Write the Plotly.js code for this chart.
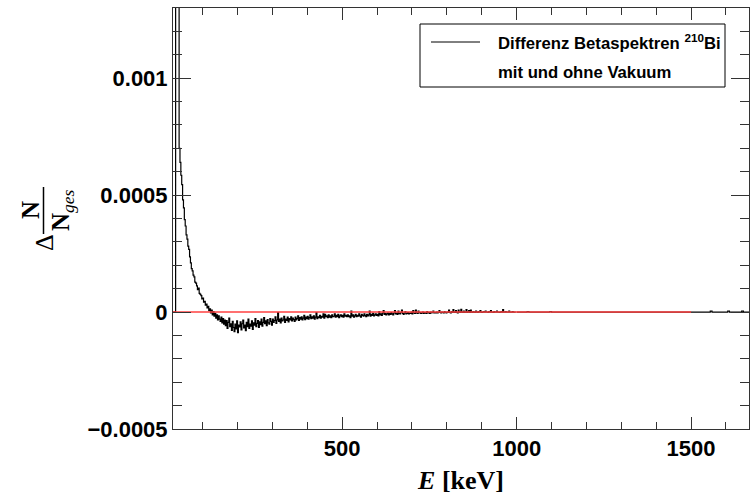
<!DOCTYPE html>
<html>
<head>
<meta charset="utf-8">
<script src="https://cdn.plot.ly/plotly-3.0.1.min.js"></script>
<style>html,body{margin:0;padding:0;background:#fff;}#chart{width:753px;height:502px;}</style>
</head>
<body>
<div id="chart"></div>
<script>
// Difference of the 210Bi beta spectra (with / without vacuum), normalised
// Histogram part 1: bins of 2.5 keV from 15 keV to 1000 keV
const binStart_keV = 15;
const binWidth_keV = 2.5;
const deltaN = [
  0, 0, 0, 4000e-6, 4000e-6, 4000e-6, 4000e-6, 700e-6, 640e-6, 585e-6, 545e-6, 480e-6, 445e-6, 395e-6, 368e-6, 330e-6, 312e-6, 282e-6, 268e-6, 236e-6,
  210e-6, 186e-6, 176e-6, 158e-6, 150e-6, 128e-6, 124e-6, 112e-6, 96e-6, 102e-6, 80e-6, 76e-6, 70e-6, 56e-6, 60e-6, 42e-6, 46e-6, 30e-6, 34e-6, 18e-6,
  24e-6, 6e-6, 14e-6, -4e-6, 8e-6, -12e-6, 2e-6, -18e-6, -6e-6, -26e-6, -12e-6, -34e-6, -16e-6, -30e-6, -40e-6, -22e-6, -46e-6, -28e-6, -52e-6, -34e-6,
  -58e-6, -36e-6, -70e-6, -44e-6, -26e-6, -62e-6, -50e-6, -78e-6, -40e-6, -66e-6, -84e-6, -52e-6, -72e-6, -38e-6, -88e-6, -56e-6, -64e-6, -42e-6, -76e-6, -50e-6,
  -34e-6, -68e-6, -56e-6, -80e-6, -44e-6, -62e-6, -30e-6, -70e-6, -52e-6, -60e-6, -38e-6, -74e-6, -46e-6, -56e-6, -28e-6, -62e-6, -48e-6, -36e-6, -66e-6, -42e-6,
  -54e-6, -30e-6, -60e-6, -44e-6, -24e-6, -50e-6, -38e-6, -58e-6, -32e-6, -46e-6, -52e-6, -28e-6, -40e-6, -56e-6, -30e-6, -44e-6, -36e-6, -20e-6, -48e-6, -34e-6,
  -2e-6, -40e-6, -30e-6, -46e-6, -26e-6, -38e-6, -34e-6, -18e-6, -44e-6, -30e-6, -36e-6, -22e-6, -42e-6, -28e-6, -34e-6, -20e-6, -38e-6, -26e-6, -32e-6, -40e-6,
  -22e-6, -34e-6, -28e-6, -16e-6, -36e-6, -24e-6, -30e-6, -20e-6, -34e-6, -26e-6, -14e-6, -32e-6, -22e-6, -28e-6, -18e-6, -30e-6, -24e-6, -12e-6, -28e-6, -20e-6,
  -26e-6, -16e-6, -30e-6, -22e-6, -2e-6, -28e-6, -20e-6, -24e-6, -14e-6, -26e-6, -18e-6, -22e-6, -8e-6, -26e-6, -10e-6, -20e-6, -16e-6, -24e-6, -12e-6, -22e-6,
  -16e-6, -24e-6, -12e-6, -20e-6, -18e-6, -8e-6, -22e-6, -14e-6, -20e-6, -10e-6, -24e-6, -16e-6, -12e-6, -20e-6, -14e-6, -22e-6, -8e-6, -18e-6, -14e-6, -20e-6,
  -12e-6, -20e-6, -16e-6, -24e-6, 4e-6, -18e-6, -12e-6, -22e-6, -16e-6, -10e-6, -20e-6, -14e-6, -18e-6, -8e-6, -16e-6, -22e-6, -10e-6, -14e-6, -18e-6, -8e-6,
  -14e-6, -20e-6, -10e-6, -16e-6, -12e-6, 4e-6, -18e-6, -10e-6, -14e-6, -6e-6, -16e-6, -12e-6, -8e-6, -14e-6, -10e-6, -16e-6, 2e-6, -12e-6, -8e-6, -14e-6,
  -4e-6, 6e-6, -10e-6, -6e-6, -12e-6, -8e-6, -4e-6, -12e-6, -6e-6, -10e-6, -2e-6, -8e-6, -12e-6, -4e-6, 6e-6, -8e-6, -4e-6, -10e-6, 4e-6, -6e-6,
  -8e-6, -2e-6, 8e-6, -6e-6, -10e-6, -4e-6, 2e-6, -8e-6, -6e-6, -2e-6, -8e-6, -4e-6, -6e-6, 0, -8e-6, 6e-6, -4e-6, -6e-6, 8e-6, -4e-6,
  -6e-6, 4e-6, -4e-6, -2e-6, -6e-6, -4e-6, 0, -6e-6, -2e-6, -4e-6, -6e-6, 2e-6, -4e-6, -2e-6, -6e-6, 0, -4e-6, -2e-6, 4e-6, -4e-6,
  -2e-6, -4e-6, 0, -4e-6, -2e-6, 6e-6, -2e-6, -4e-6, 0, -2e-6, -4e-6, 2e-6, -2e-6, -4e-6, 0, -2e-6, 8e-6, -2e-6, -4e-6, 2e-6,
  -2e-6, 10e-6, 0, -2e-6, 6e-6, -2e-6, -4e-6, 8e-6, 0, -2e-6, 12e-6, 0, -2e-6, 4e-6, -2e-6, 0, 10e-6, -2e-6, 0, 6e-6,
  -2e-6, 8e-6, 0, -2e-6, 2e-6, 0, -2e-6, 4e-6, 0, -2e-6, 2e-6, 0, 6e-6, 0, -2e-6, 0, 2e-6, 0, 4e-6, 0,
  0, -2e-6, 2e-6, 0, 6e-6, 0, 0, -2e-6, 2e-6, 0, 0, 4e-6, 0, 0, -2e-6, 0, 2e-6, 0, 10e-6, 0,
  0, 2e-6, 0, 0, 0, 4e-6, 0, 0, 0, 2e-6, 0, 0, 0, 0
];
// Histogram part 2: bins of 5 keV from 1000 keV to the end of the axis
const tailStart_keV = 1000;
const tailWidth_keV = 5;
const deltaNTail = [
  0, 0, 0, 0, 0, 0, 2e-6, 0, 0, 0,
  0, 0, 0, 0, 0, 0, 0, 0, 0, 2e-6,
  0, 0, 0, 0, 0, 0, 0, 0, 0, 0,
  0, 0, 0, 0, 0, 0, 0, 0, 0, 0,
  0, 0, 0, 0, 0, 0, 0, 0, 0, 0,
  0, 0, 0, 0, 0, 0, 0, 0, 0, 0,
  0, 0, 0, 0, 0, 0, 0, 0, 0, 0,
  0, 0, 0, 0, 0, 0, 0, 0, 0, 0,
  0, 0, 0, 0, 0, 0, 0, 0, 0, 0,
  0, 0, 0, 0, 0, 0, 0, 0, 0, 0,
  0, 0, 0, 0, 0, 0, 0, 0, 0, 0,
  0, 4e-6, 0, 0, 0, 0, 0, 0, 0, 0,
  0, 4e-6, 0, 0, 0, 0, 0, 0, 0, 4e-6,
  0, 0, 0, 0, 0
];

// red reference line at zero
const refLineE = [0, 1500];
const refLineY = [0, 0];

// axis ticks and texts
const xTickVals = [500, 1000, 1500];
const yTickVals = [-0.0005, 0, 0.0005, 0.001];
const yTickText = ['\u22120.0005', '0', '0.0005', '0.001'];
const legendLine1 = 'Differenz Betaspektren <sup>210</sup>Bi';
const legendLine2 = 'mit und ohne Vakuum';

const L = 173, T = 8, W = 576, H = 421;
const px = v => (v - L) / W;
const py = v => (T + H - v) / H;

const histLine = {color: '#000', width: 1.2, shape: 'hv'};
const traces = [
  {type: 'scatter', mode: 'lines', name: 'Differenz Betaspektren 210Bi mit und ohne Vakuum',
   x0: binStart_keV, dx: binWidth_keV, y: deltaN, line: histLine, showlegend: false, hoverinfo: 'skip'},
  {type: 'scatter', mode: 'lines', name: 'Differenz (Rest)',
   x0: tailStart_keV, dx: tailWidth_keV, y: deltaNTail, line: histLine, showlegend: false, hoverinfo: 'skip'},
  {type: 'scatter', mode: 'lines', name: 'Null',
   x: refLineE, y: refLineY, line: {color: '#ff4040', width: 1.6}, showlegend: false, hoverinfo: 'skip'}
];

const sans = 'Liberation Sans, Arial, sans-serif';
const serif = 'Liberation Serif, Times New Roman, serif';
const tickFont = {family: sans, size: 22, color: '#000', weight: 'bold'};

const layout = {
  width: 753, height: 502,
  margin: {l: L, r: 753 - L - W, t: T, b: 502 - T - H},
  paper_bgcolor: '#fff', plot_bgcolor: '#fff',
  showlegend: false,
  xaxis: {
    range: [15, 1666], tickvals: xTickVals,
    ticks: 'inside', ticklen: 12, tickwidth: 1, tickcolor: '#333',
    minor: {dtick: 100, tick0: 0, ticks: 'inside', ticklen: 7, tickwidth: 1, tickcolor: '#333'},
    showline: true, linecolor: '#333', linewidth: 1, mirror: 'ticks',
    showgrid: false, zeroline: false,
    tickfont: tickFont,
    title: {text: '<b><i>E</i>\u00a0[keV]</b>', font: {family: serif, size: 26, color: '#000'}, standoff: 10}
  },
  yaxis: {
    range: [-0.0005, 0.0013], tickvals: yTickVals, ticktext: yTickText,
    ticks: 'inside', ticklen: 18, tickwidth: 1, tickcolor: '#333',
    minor: {dtick: 0.0001, tick0: 0, ticks: 'inside', ticklen: 9, tickwidth: 1, tickcolor: '#333'},
    showline: true, linecolor: '#333', linewidth: 1, mirror: 'ticks',
    showgrid: false, zeroline: false,
    tickfont: tickFont
  },
  shapes: [
    {type: 'rect', xref: 'paper', yref: 'paper', x0: px(420), x1: px(725), y0: py(87), y1: py(24),
     line: {color: '#000', width: 1}, fillcolor: '#fff', layer: 'above'},
    {type: 'line', xref: 'paper', yref: 'paper', x0: px(431), x1: px(480), y0: py(42), y1: py(42),
     line: {color: '#000', width: 1}, layer: 'above'},
    {type: 'line', xref: 'paper', yref: 'paper', x0: px(43.5), x1: px(43.5), y0: py(234), y1: py(187),
     line: {color: '#000', width: 1.5}}
  ],
  annotations: [
    {xref: 'paper', yref: 'paper', x: px(496), y: py(42), xanchor: 'left', yanchor: 'middle', showarrow: false,
     text: legendLine1, font: {family: sans, size: 16.7, color: '#000', weight: 'bold'}},
    {xref: 'paper', yref: 'paper', x: px(496), y: py(73), xanchor: 'left', yanchor: 'middle', showarrow: false,
     text: legendLine2, font: {family: sans, size: 16.7, color: '#000', weight: 'bold'}},
    {xref: 'paper', yref: 'paper', x: px(44), y: py(243), xanchor: 'center', yanchor: 'middle', showarrow: false,
     textangle: -90, text: '\u0394', font: {family: serif, size: 26, color: '#000'}},
    {xref: 'paper', yref: 'paper', x: px(30), y: py(210), xanchor: 'center', yanchor: 'middle', showarrow: false,
     textangle: -90, text: '<b>N</b>', font: {family: serif, size: 25, color: '#000'}},
    {xref: 'paper', yref: 'paper', x: px(62), y: py(210), xanchor: 'center', yanchor: 'middle', showarrow: false,
     textangle: -90, text: '<b>N</b><sub><i>ges</i></sub>', font: {family: serif, size: 25, color: '#000'}}
  ]
};

Plotly.newPlot('chart', traces, layout, {staticPlot: true, displayModeBar: false});
</script>
</body>
</html>
